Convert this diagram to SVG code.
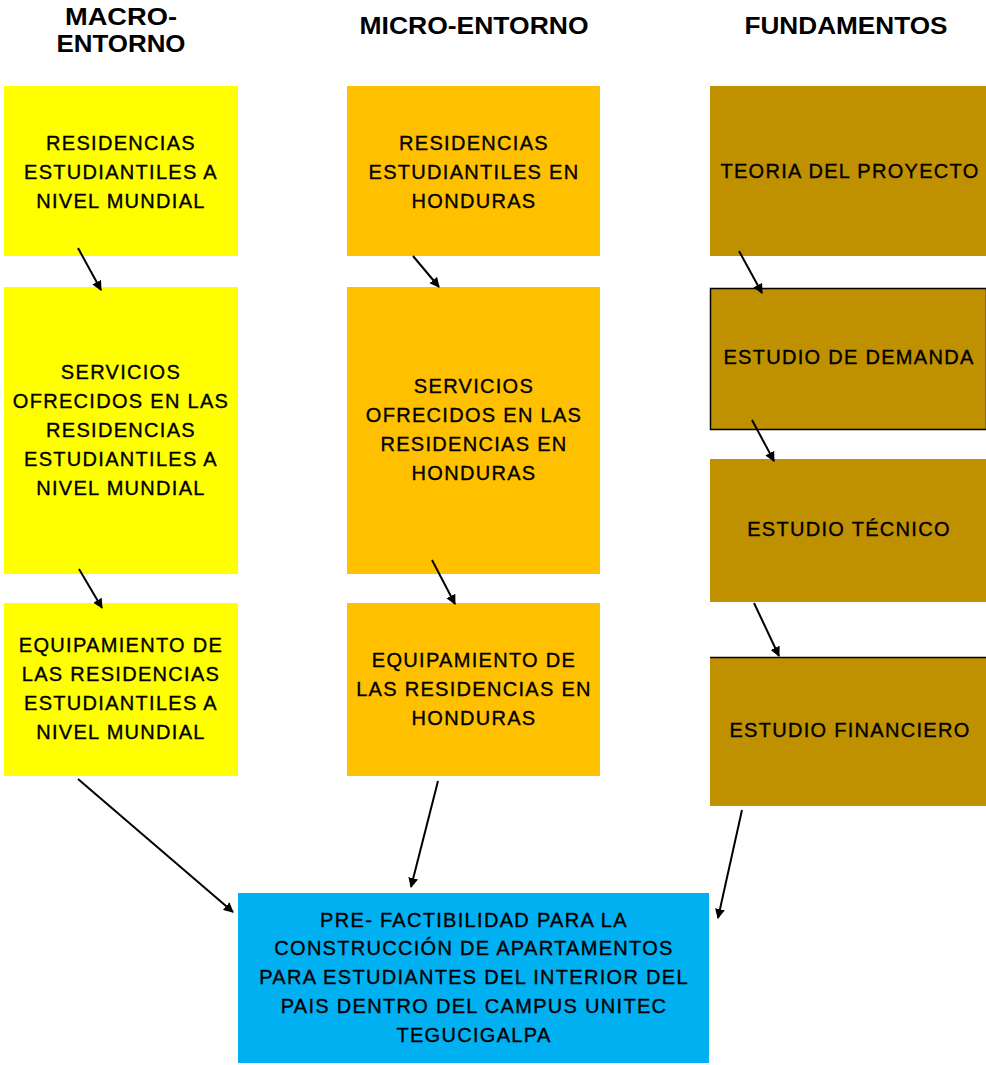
<svg xmlns="http://www.w3.org/2000/svg" width="986" height="1065" viewBox="0 0 986 1065">
<style>
.hdr{font-family:"Liberation Sans",Arial,sans-serif;font-weight:bold;font-size:23px;fill:#000;text-anchor:middle}
.t{font-family:"Liberation Sans",Arial,sans-serif;font-size:20px;letter-spacing:1.3px;fill:#000;stroke:#000;stroke-width:0.35;text-anchor:middle}
.y{fill:#FFFF00}.o{fill:#FFC000}.g{fill:#BF9000}.b{fill:#00B0F0}
.c line{stroke:#000;stroke-width:2;marker-end:url(#ah)}
</style>
<defs>
<marker id="ah" viewBox="0 0 10 10" refX="9" refY="5" markerWidth="5" markerHeight="5" orient="auto" markerUnits="strokeWidth">
<path d="M0,0 L10,5 L0,10 z" fill="#000"/>
</marker>
</defs>
<rect width="986" height="1065" fill="#fff"/>
<g id="headers">
<text class="hdr" x="121" y="25" textLength="112" lengthAdjust="spacingAndGlyphs">MACRO-</text>
<text class="hdr" x="121" y="52" textLength="129" lengthAdjust="spacingAndGlyphs">ENTORNO</text>
<text class="hdr" x="474" y="34" textLength="229" lengthAdjust="spacingAndGlyphs">MICRO-ENTORNO</text>
<text class="hdr" x="846" y="34" textLength="203" lengthAdjust="spacingAndGlyphs">FUNDAMENTOS</text>
</g>
<g id="a1"><rect class="y" x="4" y="86" width="234" height="170"/>
<text class="t" x="121"><tspan x="121" y="150">RESIDENCIAS</tspan><tspan x="121" y="179">ESTUDIANTILES A</tspan><tspan x="121" y="208">NIVEL MUNDIAL</tspan></text></g>
<g id="a2"><rect class="y" x="4" y="287" width="234" height="287"/>
<text class="t" x="121"><tspan x="121" y="379">SERVICIOS</tspan><tspan x="121" y="408">OFRECIDOS EN LAS</tspan><tspan x="121" y="437">RESIDENCIAS</tspan><tspan x="121" y="466">ESTUDIANTILES A</tspan><tspan x="121" y="495">NIVEL MUNDIAL</tspan></text></g>
<g id="a3"><rect class="y" x="4" y="603" width="234" height="173"/>
<text class="t" x="121"><tspan x="121" y="652">EQUIPAMIENTO DE</tspan><tspan x="121" y="681">LAS RESIDENCIAS</tspan><tspan x="121" y="710">ESTUDIANTILES A</tspan><tspan x="121" y="739">NIVEL MUNDIAL</tspan></text></g>
<g id="b1"><rect class="o" x="347" y="86" width="253" height="170"/>
<text class="t" x="474"><tspan x="474" y="150">RESIDENCIAS</tspan><tspan x="474" y="179">ESTUDIANTILES EN</tspan><tspan x="474" y="208">HONDURAS</tspan></text></g>
<g id="b2"><rect class="o" x="347" y="287" width="253" height="287"/>
<text class="t" x="474"><tspan x="474" y="393">SERVICIOS</tspan><tspan x="474" y="422">OFRECIDOS EN LAS</tspan><tspan x="474" y="451">RESIDENCIAS EN</tspan><tspan x="474" y="480">HONDURAS</tspan></text></g>
<g id="b3"><rect class="o" x="347" y="603" width="253" height="173"/>
<text class="t" x="474"><tspan x="474" y="667">EQUIPAMIENTO DE</tspan><tspan x="474" y="696">LAS RESIDENCIAS EN</tspan><tspan x="474" y="725">HONDURAS</tspan></text></g>
<g id="c1"><rect class="g" x="710" y="86" width="276" height="170"/>
<text class="t" x="850" y="178">TEORIA DEL PROYECTO</text></g>
<g id="c2"><rect class="g" x="710.5" y="288.5" width="276" height="141" stroke="#000" stroke-width="1.5"/>
<text class="t" x="849" y="364">ESTUDIO DE DEMANDA</text></g>
<g id="c3"><rect class="g" x="710" y="459" width="276" height="143"/>
<text class="t" x="849" y="536">ESTUDIO TÉCNICO</text></g>
<g id="c4"><rect class="g" x="710" y="657" width="276" height="149"/>
<line x1="710" y1="657.5" x2="986" y2="657.5" stroke="#000" stroke-width="1.5"/>
<text class="t" x="850" y="737">ESTUDIO FINANCIERO</text></g>
<g id="final"><rect class="b" x="238" y="893" width="471" height="170"/>
<text class="t" x="474"><tspan x="474" y="927">PRE- FACTIBILIDAD PARA LA</tspan><tspan x="474" y="955">CONSTRUCCIÓN DE APARTAMENTOS</tspan><tspan x="474" y="984">PARA ESTUDIANTES DEL INTERIOR DEL</tspan><tspan x="474" y="1013">PAIS DENTRO DEL CAMPUS UNITEC</tspan><tspan x="474" y="1042">TEGUCIGALPA</tspan></text></g>
<g id="connectors" class="c">
<line x1="78" y1="248" x2="101" y2="290"/>
<line x1="79" y1="569" x2="102" y2="608"/>
<line x1="413" y1="256" x2="439" y2="287"/>
<line x1="432" y1="560" x2="455" y2="604"/>
<line x1="739" y1="251" x2="762" y2="293"/>
<line x1="752" y1="420" x2="774" y2="461"/>
<line x1="754" y1="603" x2="779" y2="656"/>
<line x1="78" y1="779" x2="233" y2="912"/>
<line x1="438" y1="781" x2="411" y2="887"/>
<line x1="742" y1="810" x2="718" y2="918"/>
</g>
</svg>
